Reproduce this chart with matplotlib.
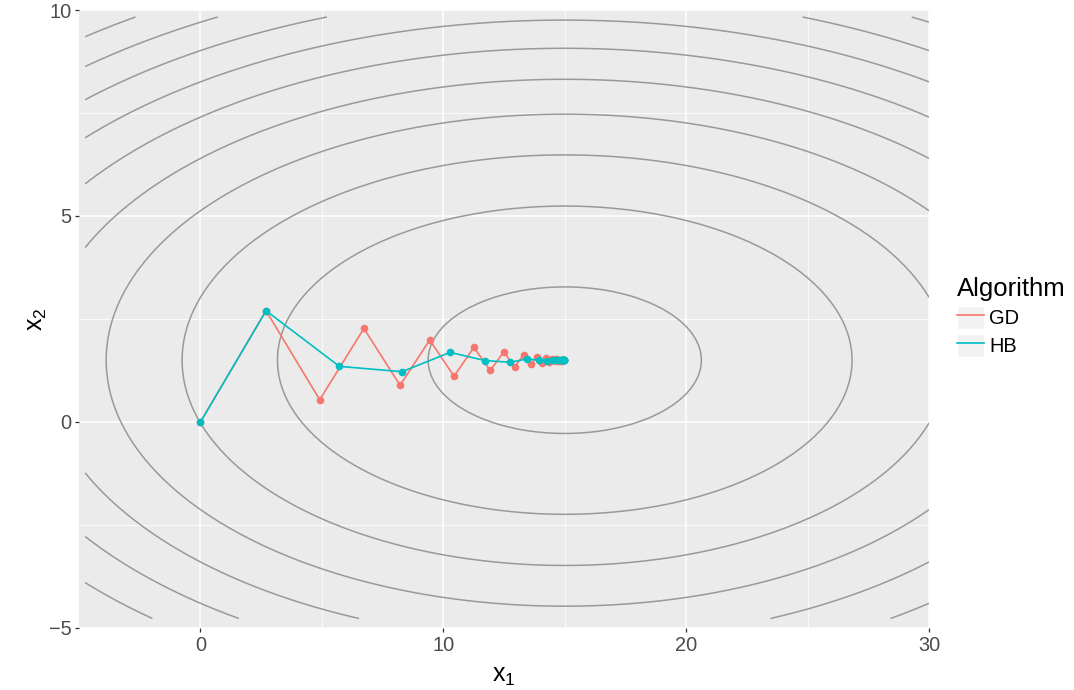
import numpy as np
import matplotlib.pyplot as plt
from matplotlib.lines import Line2D
from matplotlib.patches import Patch
from matplotlib.legend_handler import HandlerTuple

plt.rcParams['font.family'] = ['Liberation Sans', 'DejaVu Sans']
plt.rcParams['mathtext.fontset'] = 'custom'
plt.rcParams['mathtext.rm'] = 'Liberation Sans'
plt.rcParams['mathtext.it'] = 'Liberation Sans:italic'

# iterates
gd_x1 = [0, 2.70, 4.91, 6.73, 8.22, 9.44, 10.44, 11.26, 11.93, 12.49, 12.94, 13.31,
         13.61, 13.86, 14.07, 14.24, 14.37, 14.49, 14.58, 14.65, 14.72, 14.77, 14.81,
         14.84, 14.87, 14.90, 14.91, 14.93, 14.94, 14.95]
gd_x2 = [0, 2.70, 0.54, 2.27, 0.89, 1.99, 1.11, 1.81, 1.25, 1.70, 1.34, 1.63,
         1.40, 1.58, 1.43, 1.55, 1.46, 1.53, 1.47, 1.52, 1.48, 1.51, 1.49,
         1.51, 1.49, 1.51, 1.50, 1.50, 1.50, 1.50]
hb_x1 = [0, 2.70, 5.72, 8.30, 10.28, 11.72, 12.75, 13.46, 13.95, 14.29, 14.52,
         14.67, 14.78, 14.85, 14.90, 14.93, 14.95, 14.97, 14.98, 14.99, 14.99]
hb_x2 = [0, 2.70, 1.35, 1.22, 1.69, 1.49, 1.45, 1.53, 1.50, 1.49, 1.50,
         1.50, 1.50, 1.50, 1.50, 1.50, 1.50, 1.50, 1.50, 1.50, 1.50]

# level sets of the objective: minimum at (15, 1.5), curvature 0.1 : 1
x_star = [15, 1.5]
curv = [0.1, 1.0]
levels = [3.17, 14.0, 24.83, 35.66, 46.49, 57.32, 68.15, 78.98, 89.81, 100.64]

GD_COL = '#F8766D'
HB_COL = '#00BFC4'

fig = plt.figure(figsize=(10.74, 6.9), dpi=100)
ax = fig.add_axes([0.0736, 0.0899, 0.7914, 0.8956])
ax.set_facecolor('#EBEBEB')

g1, g2 = np.meshgrid(np.linspace(-4.75, 30, 100), np.linspace(-4.77, 9.83, 100))
z = curv[0] * (g1 - x_star[0]) ** 2 + curv[1] * (g2 - x_star[1]) ** 2
ax.contour(g1, g2, z, levels=levels, colors='#999999', linewidths=1.1, zorder=2)

ax.plot(gd_x1, gd_x2, color=GD_COL, lw=1.2, marker='o', ms=5.5, mew=0, zorder=3)
ax.plot(hb_x1, hb_x2, color=HB_COL, lw=1.2, marker='o', ms=5.5, mew=0, zorder=4)

ax.set_xlim(-5, 30)
ax.set_ylim(-5, 10)
ax.set_xticks([0, 10, 20, 30])
ax.set_yticks([-5, 0, 5, 10])
ax.set_xticks([5, 15, 25], minor=True)
ax.set_yticks([-2.5, 2.5, 7.5], minor=True)
ax.grid(which='major', color='white', lw=1.1, zorder=1)
ax.grid(which='minor', color='white', lw=0.55, zorder=1)
ax.set_axisbelow(True)
for s in ax.spines.values():
    s.set_visible(False)
ax.tick_params(which='major', length=3, width=0.9, color='#333333',
               labelcolor='#4D4D4D', labelsize=14.4, pad=2.5)
ax.tick_params(which='minor', length=0)

ax.set_xlabel(r'$\mathrm{x}_1$', fontsize=18, labelpad=6.5)
ax.set_ylabel(r'$\mathrm{x}_2$', fontsize=18, labelpad=0)

key_bg = Patch(facecolor='#F2F2F2', edgecolor='white', lw=1)
handles = [(key_bg, Line2D([], [], color=GD_COL, lw=1.2)),
           (key_bg, Line2D([], [], color=HB_COL, lw=1.2))]
fig.legend(handles, ['GD', 'HB'], title='Algorithm', loc='upper left',
           bbox_to_anchor=(0.891, 0.598), frameon=False, fontsize=14.4,
           title_fontsize=18.5, alignment='left', handlelength=1.35,
           handleheight=1.42, handletextpad=0.25, labelspacing=0.22,
           borderpad=0, borderaxespad=0,
           handler_map={tuple: HandlerTuple(ndivide=1, pad=0)})

fig.savefig('out.png', dpi=100)
